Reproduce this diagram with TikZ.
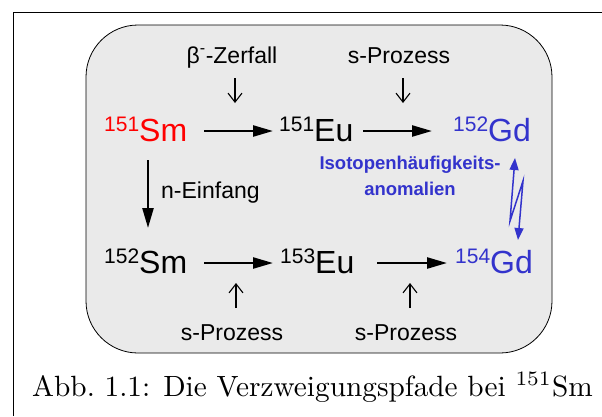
\documentclass[tikz,border=0pt]{standalone}
\usepackage{fontspec}
\usepackage{graphicx}
\newfontfamily\arialf{Liberation Sans}
\usetikzlibrary{arrows.meta,calc}
\definecolor{boxgray}{HTML}{EAEAEA}
\definecolor{isoblue}{HTML}{3333CC}
\definecolor{nucred}{HTML}{FF0000}
\newcommand{\nucl}[2]{{\fontsize{21}{21}\selectfont\raisebox{10pt}{#1}}{\fontsize{32}{32}\selectfont #2}}
\begin{document}
\begin{tikzpicture}[x=1pt,y=-1pt,
  nuc/.style={inner sep=0, anchor=base west, font=\arialf},
  lab/.style={inner sep=0, anchor=base, font=\arialf\fontsize{23}{27}\selectfont},
  thickarr/.style={line width=2.4pt, -{Triangle[length=20pt,width=11pt]}},
  thinarr/.style={line width=1.1pt, -{Straight Barb[length=9pt,width=14pt]}},
  zigarr/.style={isoblue, line width=1.5pt, {Triangle[length=12pt,width=9pt]}-{Triangle[length=12pt,width=9pt]}}]
\useasboundingbox (0,0) rectangle (602,416);
% frame
\draw[line width=1pt] (13,416) -- (13,12) -- (602,12);
% gray box
\draw[fill=boxgray, rounded corners=52pt, line width=0.8pt] (86,25) rectangle (552,353);
% nuclides
\node[nuc, text=nucred] (sm151) at (104,141) {\nucl{151}{Sm}};
\node[nuc] (eu151) at (279,141) {\nucl{151}{Eu}};
\node[nuc, text=isoblue] (gd152) at (453,141) {\nucl{152}{Gd}};
\node[nuc] (sm152) at (104,273) {\nucl{152}{Sm}};
\node[nuc] (eu153) at (280,273) {\nucl{153}{Eu}};
\node[nuc, text=isoblue] (gd154) at (455,273) {\nucl{154}{Gd}};
% labels
\node[lab] (beta) at (232,63) {β\textsuperscript{-}-Zerfall};
\node[lab] (sp1) at (399,63) {s-Prozess};
\node[lab] (sp2) at (232,340) {s-Prozess};
\node[lab] (sp3) at (406,340) {s-Prozess};
\node[lab, anchor=base west] (nein) at (161,198) {n-Einfang};
\node[inner sep=0, anchor=base, align=center, text=isoblue,
      font=\arialf\bfseries\fontsize{18.5}{26}\selectfont] (iso) at (410,195) {Isotopenhäufigkeits-\\anomalien};
% thick arrows
\draw[thickarr] ($(sm151.base west)+(100,-10)$) -- ($(eu151.base west)+(-6,-10)$);
\draw[thickarr] ($(eu151.base west)+(84,-10)$) -- ($(gd152.base west)+(-21,-10)$);
\draw[thickarr] ($(sm152.base west)+(100,-10)$) -- ($(eu153.base west)+(-7,-10)$);
\draw[thickarr] ($(eu153.base west)+(97,-10)$) -- ($(gd154.base west)+(-8,-10)$);
\draw[thickarr] ($(sm151.base west)+(44,19)$) -- ($(sm152.base west)+(44,-45)$);
% thin arrows
\coordinate (t1) at (235,103);
\coordinate (t2) at (403,103);
\coordinate (u1) at (236,283);
\coordinate (u2) at (410,283);
\draw[thinarr] (beta.base -| t1) ++(0,15) -- (t1);
\draw[thinarr] (sp1.base -| t2) ++(0,15) -- (t2);
\draw[thinarr] (sp2.base -| u1) ++(0,-32) -- (u1);
\draw[thinarr] (sp3.base -| u2) ++(0,-32) -- (u2);
% zigzag
\draw[zigarr] ($(gd152.base west)+(62,17)$) -- (510,221) -- (523,181) -- ($(gd154.base west)+(63,-33)$);
% caption
\node[inner sep=0, anchor=base west] (cap) at (32,396) {\scalebox{2.93}{\fontsize{10}{12}\selectfont Abb.\ 1.1: Die Verzweigungspfade bei $^{151}$Sm}};
\end{tikzpicture}
\end{document}
